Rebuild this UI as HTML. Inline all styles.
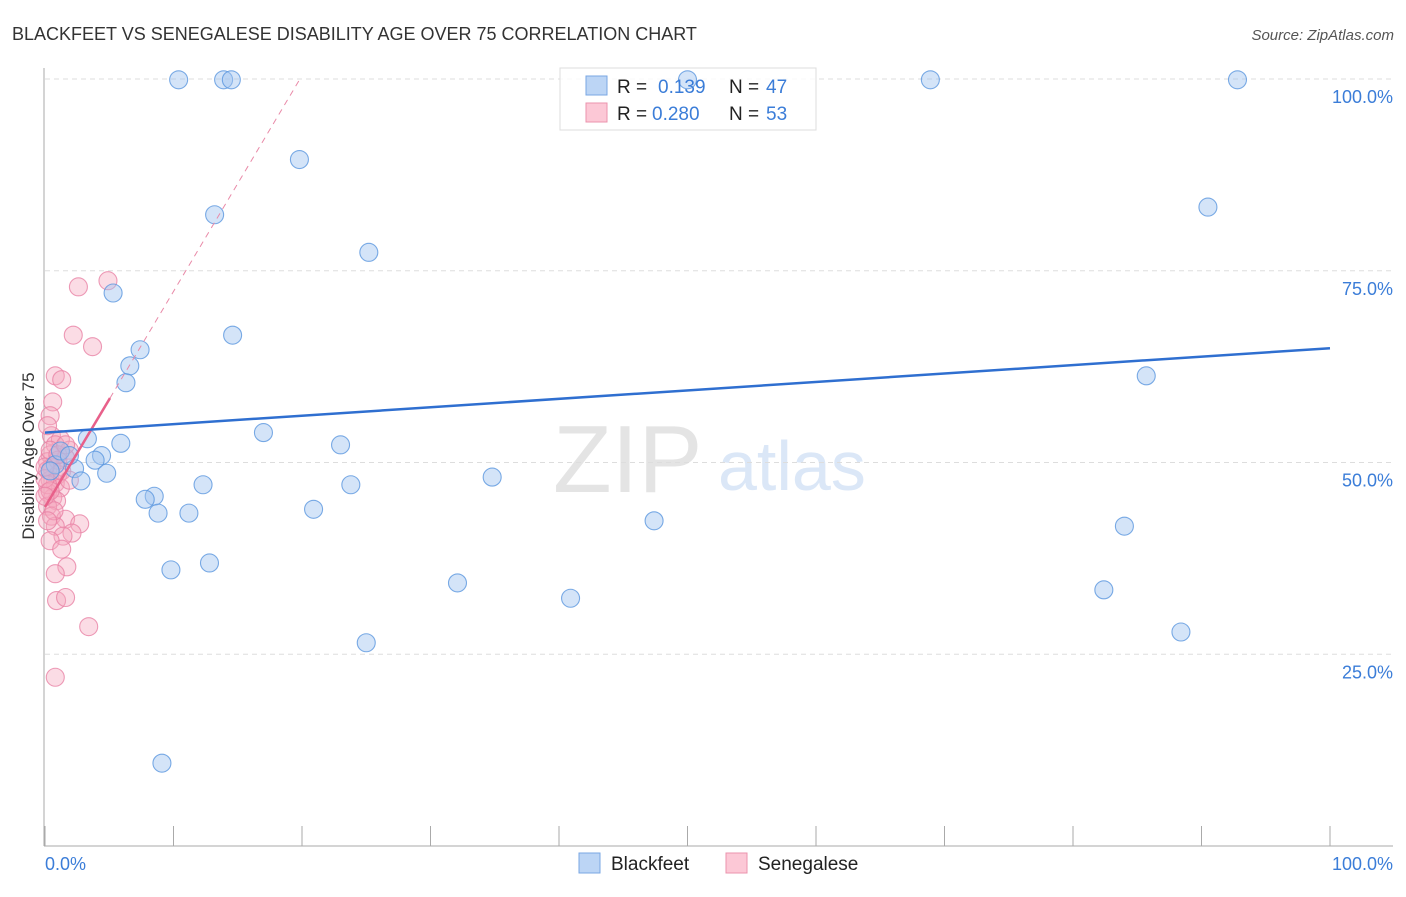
<!DOCTYPE html>
<html><head><meta charset="utf-8"><style>
body{margin:0;background:#fff;font-family:"Liberation Sans",sans-serif}
svg text{font-family:"Liberation Sans",sans-serif}
</style></head><body>
<svg id="chart" width="1406" height="892" xmlns="http://www.w3.org/2000/svg">
<text x="12" y="40" font-size="18" fill="#333">BLACKFEET VS SENEGALESE DISABILITY AGE OVER 75 CORRELATION CHART</text>
<text x="1394" y="40" font-size="15" fill="#555" text-anchor="end" font-style="italic">Source: ZipAtlas.com</text>
<g>
<text x="553" y="492" font-size="96" fill="#e4e4e4" font-family="Liberation Serif">ZIP</text>
<text x="718" y="490" font-size="70" fill="#dbe7f7">atlas</text>
</g>
<g id="grid"></g>
<g>
<rect x="560" y="68" width="256" height="62" fill="#fff" fill-opacity="0.85" stroke="#ddd"/>
</g>
<g id="marks"></g>
<g>
<rect x="586" y="76" width="21" height="19" fill="#bcd5f5" stroke="#7aa7e3"/>
<text x="617" y="93" font-size="19" fill="#222">R =</text><text x="658" y="93" font-size="19" fill="#3b7dd8">0.139</text>
<text x="729" y="93" font-size="19" fill="#222">N =</text><text x="766" y="93" font-size="19" fill="#3b7dd8">47</text>
<rect x="586" y="103" width="21" height="19" fill="#fcc8d6" stroke="#eb93ad"/>
<text x="617" y="120" font-size="19" fill="#222">R =</text><text x="652" y="120" font-size="19" fill="#3b7dd8">0.280</text>
<text x="729" y="120" font-size="19" fill="#222">N =</text><text x="766" y="120" font-size="19" fill="#3b7dd8">53</text>
</g>
<text transform="translate(34,456) rotate(-90)" font-size="17" fill="#333" text-anchor="middle">Disability Age Over 75</text>
<text x="45" y="870" font-size="18" fill="#3b7dd8">0.0%</text>
<text x="1393" y="870" font-size="18" fill="#3b7dd8" text-anchor="end">100.0%</text>
<g>
<rect x="579" y="853" width="21" height="20" fill="#bcd5f5" stroke="#7aa7e3"/>
<text x="611" y="870" font-size="19" fill="#222">Blackfeet</text>
<rect x="726" y="853" width="21" height="20" fill="#fcc8d6" stroke="#eb93ad"/>
<text x="758" y="870" font-size="19" fill="#222">Senegalese</text>
</g>
</svg>
<script>
const yTicks=[25,50,75,100];
const yTickLabels=["25.0%","50.0%","75.0%","100.0%"];
const xTicks=[0,10,20,30,40,50,60,70,80,90,100];
const blackfeetX=[10.4,13.9,14.5,50.0,68.9,92.8,19.8,13.2,25.2,90.5,5.3,14.6,7.4,6.6,6.3,85.7,17.0,23.0,5.9,3.3,4.4,3.9,2.3,4.8,2.8,0.8,12.3,23.8,34.8,8.5,7.8,8.8,11.2,20.9,47.4,84.0,9.8,12.8,32.1,82.4,40.9,88.4,25.0,9.1,1.2,0.4,1.9];
const blackfeetY=[99.9,99.9,99.9,99.9,99.9,99.9,89.5,82.3,77.4,83.3,72.1,66.6,64.7,62.6,60.4,61.3,53.9,52.3,52.5,53.1,50.9,50.3,49.2,48.6,47.6,49.7,47.1,47.1,48.1,45.6,45.2,43.4,43.4,43.9,42.4,41.7,36.0,36.9,34.3,33.4,32.3,27.9,26.5,10.8,51.5,48.9,50.9];
const senegaleseX=[4.9,2.6,2.2,3.7,0.8,1.3,0.6,0.4,0.5,1.2,0.8,1.9,0.4,1.6,0.2,0.5,0.2,1.0,0.4,0.8,1.2,0.2,0.6,0.9,0.2,0.5,1.6,2.7,0.8,2.1,1.4,0.4,1.3,1.7,0.8,0.9,1.6,3.4,0.8,0.2,0.4,1.0,0.0,0.4,1.3,0.7,0.2,0.0,1.0,1.6,1.9,0.2,0.0];
const senegaleseY=[73.7,72.9,66.6,65.1,61.3,60.8,57.9,56.1,53.5,53.0,52.3,51.6,51.0,50.6,50.1,49.4,49.0,48.4,47.7,47.3,46.7,46.1,45.4,45.0,44.3,43.0,42.6,42.0,41.7,40.8,40.4,39.8,38.7,36.4,35.5,32.0,32.4,28.6,22.0,47.1,51.6,50.3,47.9,46.3,48.9,43.7,42.4,45.6,51.0,52.3,47.7,54.8,49.4];
const blueTrend=[[0,53.9],[100,64.9]];
const pinkSolid=[[0,44.2],[5.06,58.4]];
const pinkDashed=[[5.06,58.4],[19.84,100]];
const NS="http://www.w3.org/2000/svg";
const X=v=>45+v/100*1285, Y=v=>846-v/100*767;
function mk(tag,attrs,parent){const e=document.createElementNS(NS,tag);for(const k in attrs)e.setAttribute(k,attrs[k]);parent.appendChild(e);return e;}
const grid=document.getElementById('grid'),marks=document.getElementById('marks');
yTicks.forEach((t,i)=>{
 const l=mk('line',{x1:45,x2:1393,y1:Y(t),y2:Y(t),stroke:'#ddd','stroke-dasharray':'5,4'},grid);
 
 
 const tx=mk('text',{x:1393,y:Y(t)+24,'font-size':18,fill:'#3b7dd8','text-anchor':'end'},grid);
 tx.textContent=yTickLabels[i];
 
 
});
const ax=mk('line',{x1:44,x2:44,y1:68,y2:846,stroke:'#aaa'},grid);


const bx=mk('line',{x1:44,x2:1393,y1:846,y2:846,stroke:'#aaa'},grid);


xTicks.forEach(t=>{
 const l=mk('line',{x1:X(t),x2:X(t),y1:826,y2:846,stroke:'#aaa'},grid);
 
 
});
function dots(xs,ys,fill,stroke,name){
 xs.forEach((v,i)=>{
  const c=mk('circle',{cx:X(v),cy:Y(ys[i]),r:9,fill:fill,stroke:stroke,'stroke-width':1.1},marks);
  
  
 });
}
dots(senegaleseX,senegaleseY,'rgba(246,168,190,0.4)','rgba(233,130,165,0.8)','senegalese-point');
dots(blackfeetX,blackfeetY,'rgba(160,196,240,0.45)','rgba(90,150,222,0.8)','blackfeet-point');
function line(p,stroke,w,dash,name){
 const l=mk('line',{x1:X(p[0][0]),y1:Y(p[0][1]),x2:X(p[1][0]),y2:Y(p[1][1]),stroke:stroke,'stroke-width':w},marks);
 if(dash)l.setAttribute('stroke-dasharray',dash);
 
 
}
line(pinkDashed,'#e98aa8',1,'6,5','senegalese-trend-extension');
line(pinkSolid,'#e8608a',2.5,null,'senegalese-trend-line');
line(blueTrend,'#2f6fd0',2.5,null,'blackfeet-trend-line');
</script>
</body></html>
